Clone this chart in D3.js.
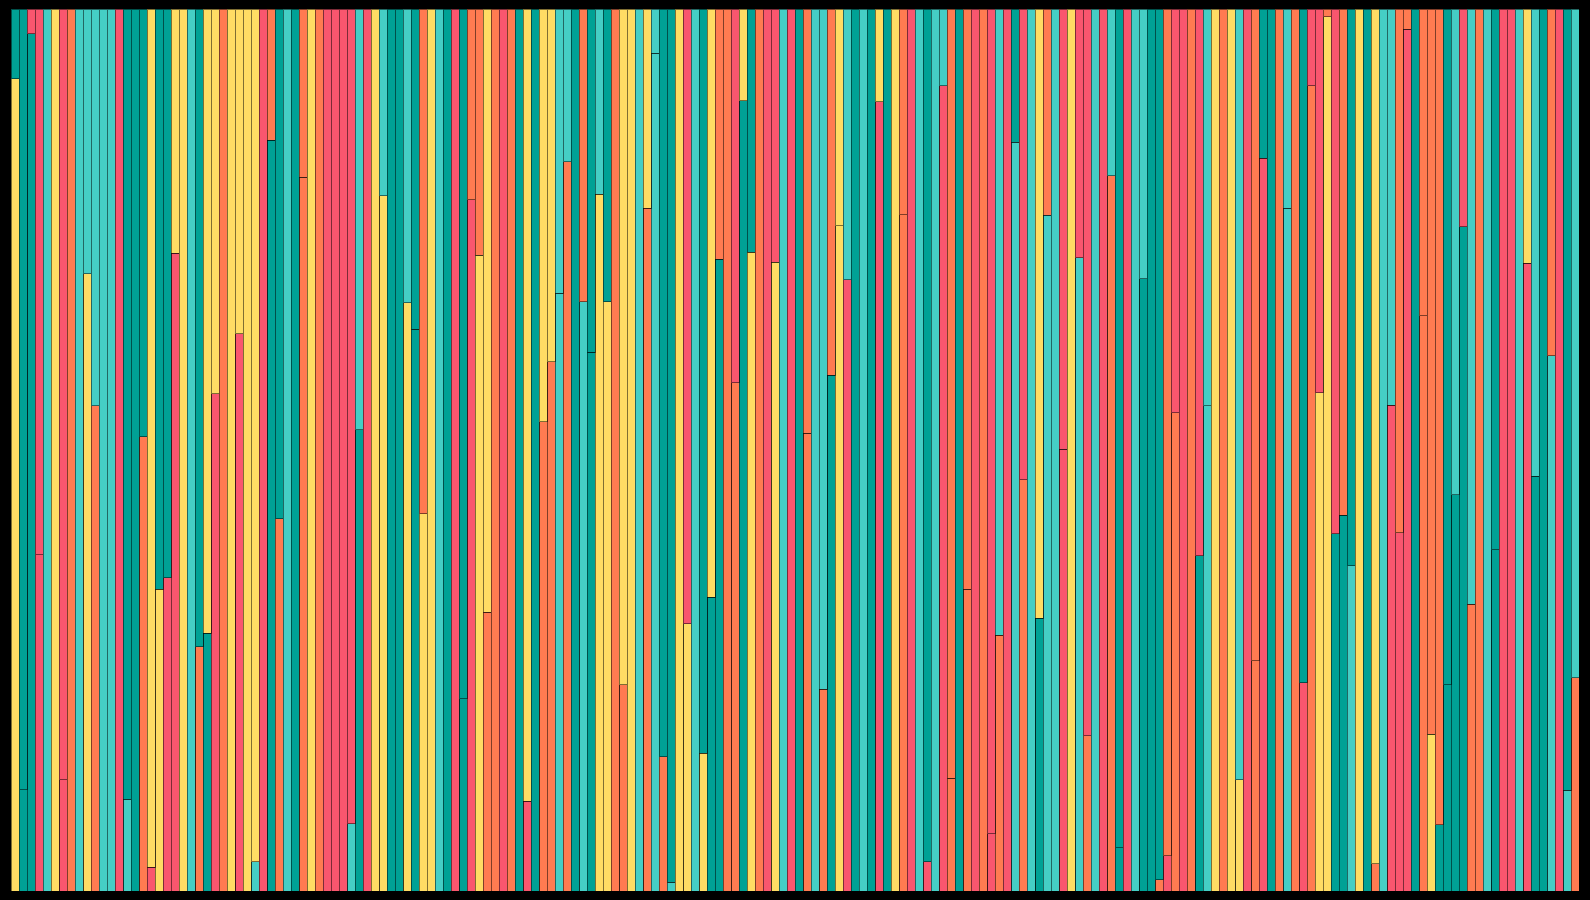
<!DOCTYPE html>
<html>
<head>
<meta charset="utf-8">
<script src="https://cdn.jsdelivr.net/npm/d3@7"></script>
<style>
  html, body { margin: 0; padding: 0; background: #000; }
  svg { display: block; }
</style>
</head>
<body>
<svg id="chart" width="1590" height="900"></svg>
<script>
// Column categories (1..196)
const columns = d3.range(1, 197).map(i => "C" + i);

// Colour key of the upper segment of each column
const upperColor = "TTRRQYROQQQQQRTTTYTTYYQTYYOYYYYROTQTOYORRRRQRYQTTQTOYQTRTOOYOROTYTYYQQTOTQTOYYQYQTTYRQTYOORYTORRQRTOQQOYQTQTYTYORQTQQOTORORQRTRQYOQRYRRQRQTRQQTTORRORQYOYQROTTOQOTRROROTYTYQQOOTOOOTQRQOQTRRQYQTORTQ".split("");

// Colour key of the lower segment of each column
const lowerColor = "YTTRQYROQYOQQRQTORYRRYQOTROYRYQRTOQTOYORRRQTRYYTTYTYYQTRTRYOOROTRTOOQOTQTYYOOYQOQOQYYQYTTOOTYORYQRTOQOTYRTQTRTYORQRQROTORORORQOQTQQRYQOQROTRQTTOROROTQYOYYRORTOQOROYYTTQYTOQRRRTOYTTTTOOQTRRQRTTQRQO".split("");

// Share (%) of the lower segment in each column
const lowerShare = [
  92.1, 11.5, 97.2, 38.1, 0, 0, 12.6, 0, 0, 70.0,
  55.0, 0, 0, 0, 10.4, 0, 51.5, 2.7, 34.2, 35.5,
  72.3, 0, 0, 27.7, 29.2, 56.4, 0, 0, 63.2, 0,
  3.3, 0, 85.1, 42.2, 0, 0, 80.9, 0, 0, 0,
  0, 0, 7.6, 52.3, 0, 0, 78.8, 0, 0, 66.7,
  63.7, 42.8, 0, 0, 0, 0, 21.8, 78.4, 72.1, 31.6,
  0, 0, 0, 0, 10.2, 0, 53.2, 60.0, 67.8, 82.7,
  0, 66.8, 61.1, 79.0, 66.8, 0, 23.4, 0, 0, 77.4,
  95.0, 15.2, 1.0, 0, 30.3, 0, 15.6, 33.3, 71.6, 0,
  57.6, 89.6, 72.4, 0, 0, 71.3, 0, 0, 0, 51.9,
  0, 22.9, 58.5, 75.4, 69.3, 0, 0, 0, 89.5, 0,
  0, 76.7, 0, 0, 3.3, 0, 91.3, 12.8, 0, 34.2,
  0, 0, 6.5, 29.0, 0, 84.9, 46.6, 0, 30.9, 76.6,
  0, 50.1, 0, 71.8, 17.6, 0, 0, 81.1, 4.9, 0,
  0, 69.4, 0, 1.3, 4.0, 54.2, 0, 0, 38.0, 55.0,
  0, 0, 0, 12.6, 0, 26.1, 83.1, 0, 0, 77.4,
  0, 23.6, 91.3, 56.5, 99.1, 40.5, 42.6, 36.9, 0, 0,
  3.1, 0, 55.1, 40.6, 97.7, 0, 65.2, 17.8, 7.5, 23.4,
  44.9, 75.3, 32.5, 0, 0, 38.7, 0, 0, 0, 71.2,
  47.0, 0, 60.7, 0, 11.4, 24.2
];

const palette = {
  T: "#00A195",
  Q: "#45CEC5",
  Y: "#FFDC64",
  O: "#FF7B51",
  R: "#F9566E"
};

const rows = columns.map((c, i) => ({
  col: c,
  lower: lowerShare[i],
  upper: 100 - lowerShare[i],
  lowerKey: lowerColor[i],
  upperKey: upperColor[i]
}));

const svg = d3.select("#chart");
svg.append("rect").attr("width", 1590).attr("height", 900).attr("fill", "#000");

const margin = { left: 11, right: 11, top: 9, bottom: 9 };
const x = d3.scaleBand().domain(columns).range([margin.left, 1590 - margin.right]).padding(0);
const y = d3.scaleLinear().domain([0, 100]).range([900 - margin.bottom, margin.top]);

const stack = d3.stack().keys(["lower", "upper"]);
const series = stack(rows);

const g = svg.append("g");
series.forEach(s => {
  const keyField = s.key === "lower" ? "lowerKey" : "upperKey";
  g.append("g")
    .selectAll("rect")
    .data(s.filter(d => d[1] - d[0] > 0))
    .join("rect")
    .attr("x", d => x(d.data.col))
    .attr("width", x.bandwidth())
    .attr("y", d => y(d[1]))
    .attr("height", d => y(d[0]) - y(d[1]))
    .attr("fill", d => palette[d.data[keyField]])
    .attr("stroke", "rgba(0,0,0,0.5)")
    .attr("stroke-width", 1)
    .attr("shape-rendering", "crispEdges");
});
</script>
</body>
</html>
